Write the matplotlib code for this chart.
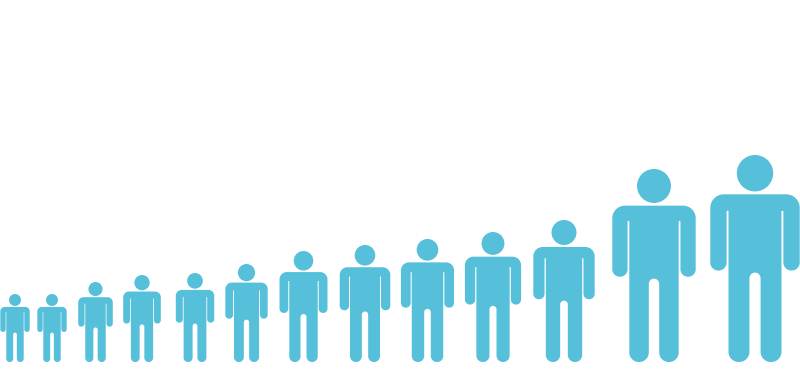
import math
import matplotlib
matplotlib.use("Agg")
import matplotlib.pyplot as plt
from matplotlib.path import Path
from matplotlib.patches import PathPatch
from matplotlib.transforms import Affine2D

# Data: pictogram height of each figure
categories = list(range(1, 14))
heights = [68, 68, 80, 87, 89, 98, 111, 117, 123, 130, 142, 193, 207]

# Layout: horizontal slot of each figure
slots = [15, 52, 95.5, 142, 195, 246.5, 303.5, 365, 427.5, 493, 564, 654, 755]

COLOR = "#56BFD9"


def rounded_polygon(points):
    """Closed path from (x, y, corner radius) points."""
    n = len(points)
    verts, codes = [], []
    for i in range(n):
        x0, y0, _ = points[i - 1]
        x, y, r = points[i]
        x1, y1, _ = points[(i + 1) % n]
        d0 = math.hypot(x0 - x, y0 - y)
        d1 = math.hypot(x1 - x, y1 - y)
        a = (x + (x0 - x) * r / d0, y + (y0 - y) * r / d0)
        b = (x + (x1 - x) * r / d1, y + (y1 - y) * r / d1)
        verts.append(a)
        codes.append(Path.MOVETO if i == 0 else Path.LINETO)
        if r > 0:
            k = 0.5523
            c1 = (a[0] + (x - a[0]) * k, a[1] + (y - a[1]) * k)
            c2 = (b[0] + (x - b[0]) * k, b[1] + (y - b[1]) * k)
            verts += [c1, c2, b]
            codes += [Path.CURVE4] * 3
    verts.append(verts[0])
    codes.append(Path.CLOSEPOLY)
    return Path(verts, codes)


right_half = [
    (0.0, 0.81, 0),
    (0.216, 0.81, 0.065),
    (0.216, 0.442, 0.038),
    (0.137, 0.442, 0.038),
    (0.137, 0.73, 0),
    (0.128, 0.73, 0),
    (0.128, 0.0, 0.049),
    (0.027, 0.0, 0.049),
    (0.027, 0.432, 0.027),
]
left_half = [(-x, y, r) for x, y, r in reversed(right_half[1:])]
body = rounded_polygon(right_half + left_half)
head = Path.circle((0, 0.912), 0.088)
glyph = Path.make_compound_path(body, head)

fig = plt.figure(figsize=(8, 3.92), dpi=100)
ax = fig.add_axes([0, 0, 1, 1])
ax.set_xlim(0, 800)
ax.set_ylim(-30, 362)
ax.axis("off")

for cat, slot, h in zip(categories, slots, heights):
    tr = Affine2D().scale(h).translate(slot, 0) + ax.transData
    ax.add_patch(PathPatch(glyph, facecolor=COLOR, edgecolor="none", transform=tr,
                           label=str(cat), snap=False))

fig.savefig("out.png", dpi=100)
